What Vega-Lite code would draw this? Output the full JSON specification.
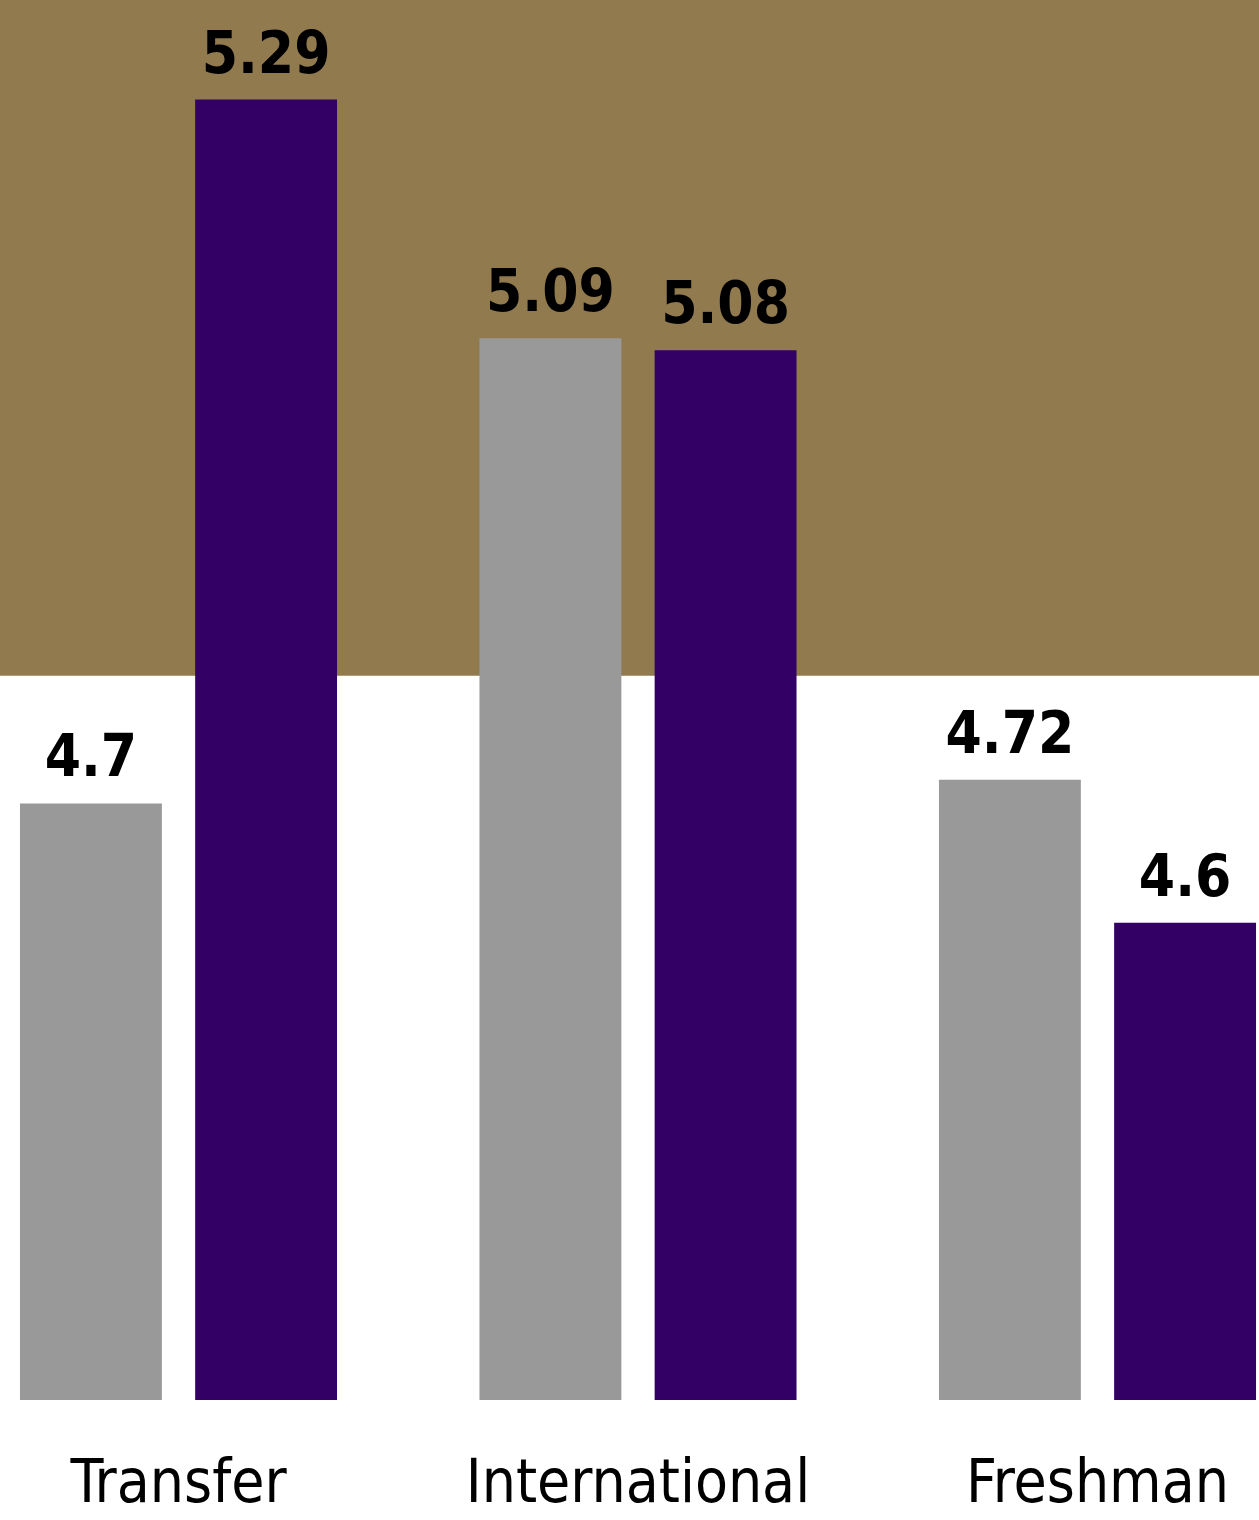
{
  "$schema": "https://vega.github.io/schema/vega-lite/v6.json",
  "width": 1259,
  "height": 1400,
  "autosize": {"type": "none"},
  "padding": {"left": 0, "top": 0, "right": 0, "bottom": 120},
  "background": "white",
  "config": {"view": {"stroke": null}},
  "datasets": {
    "bars": [
      {"category": "Transfer", "series": "Previous", "value": 4.7},
      {"category": "Transfer", "series": "Current", "value": 5.29},
      {"category": "International", "series": "Previous", "value": 5.09},
      {"category": "International", "series": "Current", "value": 5.08},
      {"category": "Freshman", "series": "Previous", "value": 4.72},
      {"category": "Freshman", "series": "Current", "value": 4.6}
    ],
    "band": [{"from": 4.807, "to": 5.3735}]
  },
  "layer": [
    {
      "data": {"name": "band"},
      "mark": {"type": "rect", "color": "#917B4E", "clip": true},
      "encoding": {
        "y": {"field": "from", "type": "quantitative", "scale": {"domain": [4.2, 5.3735], "nice": false, "zero": false}, "axis": null},
        "y2": {"field": "to"}
      }
    },
    {
      "data": {"name": "bars"},
      "encoding": {
        "x": {"field": "category", "type": "nominal", "sort": ["Transfer", "International", "Freshman"],
          "scale": {"paddingInner": 0.31, "paddingOuter": 0.0435, "range": [0, 1276]},
          "axis": {"title": null, "domain": false, "ticks": false, "labelAngle": 0, "labelFont": "DejaVu Sans Condensed, Roboto, sans-serif", "labelFontSize": 60, "labelColor": "#000000", "labelPadding": 54, "labelLimit": 0}},
        "xOffset": {"field": "series", "type": "nominal", "sort": ["Previous", "Current"], "scale": {"paddingInner": 0.19, "paddingOuter": 0}},
        "y": {"field": "value", "type": "quantitative", "scale": {"domain": [4.2, 5.3735], "nice": false, "zero": false}, "axis": null}
      },
      "layer": [
        {
          "mark": {"type": "bar", "clip": true},
          "encoding": {
            "color": {"field": "series", "type": "nominal", "scale": {"domain": ["Previous", "Current"], "range": ["#999999", "#330066"]}, "legend": null},
            "y2": {"datum": 4.2}
          }
        },
        {
          "mark": {"type": "text", "dy": -27, "baseline": "alphabetic", "font": "DejaVu Sans Condensed, Roboto, sans-serif", "fontWeight": "bold", "fontSize": 58, "color": "#000000"},
          "encoding": {"text": {"field": "value", "type": "quantitative"}}
        }
      ]
    }
  ]
}
